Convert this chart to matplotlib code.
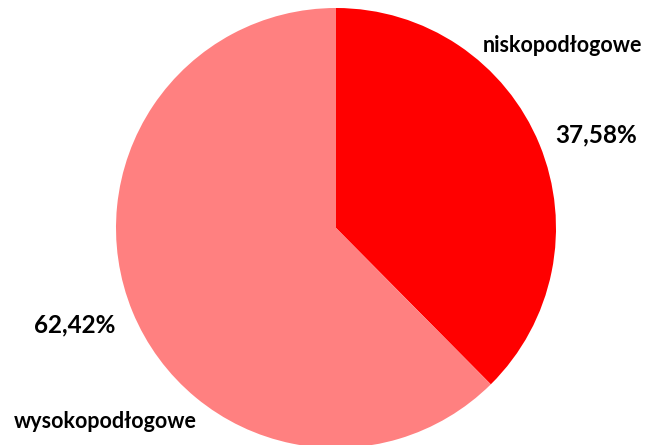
import matplotlib.pyplot as plt

labels = ["niskopodłogowe", "wysokopodłogowe"]
values = [37.58, 62.42]
pct_text = ["37,58%", "62,42%"]
colors = ["#FF0000", "#FF8080"]

plt.rcParams['font.family'] = ['Lato', 'DejaVu Sans']

fig = plt.figure(figsize=(6.59, 4.45), dpi=100)
ax = fig.add_axes([0, 0, 1, 1])

ax.pie(values, colors=colors, startangle=90, counterclock=False,
       center=(336, 445 - 228), radius=220, frame=True,
       wedgeprops=dict(linewidth=0))
ax.set_xlim(0, 659)
ax.set_ylim(0, 445)
ax.axis('off')

# labels around the pie
ax.text(562, 445 - 45, labels[0], ha='center', va='center', fontsize=15.5, fontweight='bold')
ax.text(596, 445 - 135, pct_text[0], ha='center', va='center', fontsize=17.5, fontweight='bold')
ax.text(75, 445 - 325, pct_text[1], ha='center', va='center', fontsize=17.5, fontweight='bold')
ax.text(105, 445 - 421, labels[1], ha='center', va='center', fontsize=15.5, fontweight='bold')

plt.savefig("out.png", dpi=100)
